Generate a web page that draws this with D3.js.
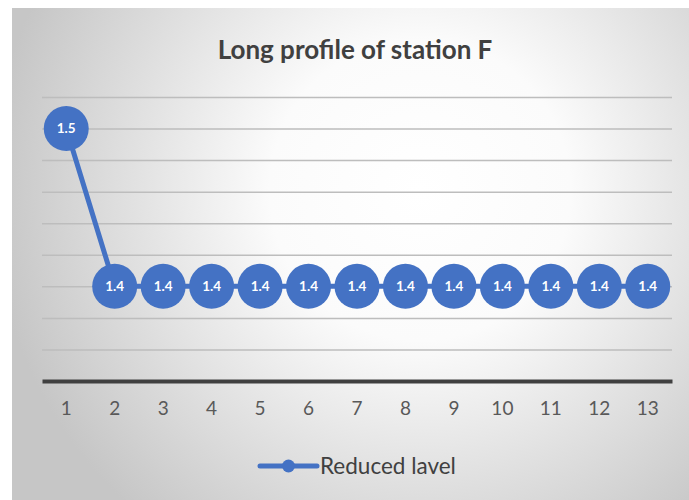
<!DOCTYPE html>
<html>
<head>
<meta charset="utf-8">
<script src="https://cdn.jsdelivr.net/npm/d3@7"></script>
<style>
  html, body { margin: 0; padding: 0; background: #fff; }
  svg { display: block; font-family: Lato, "Open Sans", sans-serif; }
</style>
</head>
<body>
<svg id="chart" width="689" height="500"></svg>
<script>
// Stations along the profile and their reduced levels
const stations = ["1", "2", "3", "4", "5", "6", "7", "8", "9", "10", "11", "12", "13"];
const reducedLevel = [1.5, 1.4, 1.4, 1.4, 1.4, 1.4, 1.4, 1.4, 1.4, 1.4, 1.4, 1.4, 1.4];
const levelRange = [1.34, 1.52];
const title = "Long profile of station F";
const seriesName = "Reduced lavel";

const svg = d3.select("#chart");
const W = 689, H = 500;
const plot = { left: 42, right: 672, top: 97, bottom: 381 };
const blue = "#4472C4";

// Chart area background with a soft radial sheen
const defs = svg.append("defs");
const grad = defs.append("radialGradient")
  .attr("id", "bg").attr("gradientUnits", "userSpaceOnUse")
  .attr("cx", 420).attr("cy", 190).attr("r", 430);
grad.append("stop").attr("offset", "0%").attr("stop-color", "#ffffff");
grad.append("stop").attr("offset", "35%").attr("stop-color", "#fbfbfb");
grad.append("stop").attr("offset", "100%").attr("stop-color", "#c6c6c6");

svg.append("rect")
  .attr("x", 12).attr("y", 8).attr("width", W - 12).attr("height", H - 8)
  .attr("fill", "url(#bg)");

const x = d3.scaleBand().domain(stations).range([plot.left, plot.right]);
const y = d3.scaleLinear().domain(levelRange).range([plot.bottom, plot.top]);

// Horizontal gridlines
const grid = svg.append("g")
  .attr("transform", `translate(${plot.left},0)`)
  .call(d3.axisLeft(y).ticks(9).tickSize(-(plot.right - plot.left)).tickFormat(""));
grid.select(".domain").remove();
grid.selectAll(".tick line")
  .attr("stroke", "#bdbdbd").attr("stroke-width", 1.5);
grid.selectAll(".tick").filter(d => Math.abs(d - levelRange[0]) < 1e-9).remove();

// Category axis
const xAxis = svg.append("g")
  .attr("transform", `translate(0,${plot.bottom})`)
  .call(d3.axisBottom(x).tickSize(0).tickPadding(21));
xAxis.select(".domain").attr("stroke", "#404040").attr("stroke-width", 4);
xAxis.selectAll("text")
  .attr("fill", "#595959").attr("font-size", 19)
  .attr("font-family", "Lato, 'Open Sans', sans-serif");

// Series line
const cx = (d, i) => x(stations[i]) + x.bandwidth() / 2;
const line = d3.line().x(cx).y(d => y(d));
svg.append("path")
  .datum(reducedLevel)
  .attr("fill", "none").attr("stroke", blue).attr("stroke-width", 5)
  .attr("d", line);

// Markers with value labels
const pts = svg.append("g").selectAll("g").data(reducedLevel).join("g")
  .attr("transform", (d, i) => `translate(${cx(d, i)},${y(d)})`);
pts.append("circle").attr("r", 22.5).attr("fill", blue);
pts.append("text")
  .attr("text-anchor", "middle").attr("dy", "0.36em")
  .attr("fill", "#ffffff").attr("font-weight", "bold").attr("font-size", 13.5)
  .text(d => d3.format(".1f")(d));

// Title
svg.append("text")
  .attr("x", 355).attr("y", 59).attr("text-anchor", "middle")
  .attr("fill", "#404040").attr("font-weight", "bold").attr("font-size", 26)
  .text(title);

// Legend
const lg = svg.append("g").attr("transform", "translate(260,466)");
lg.append("line").attr("x1", 0).attr("x2", 57).attr("y1", 0).attr("y2", 0)
  .attr("stroke", blue).attr("stroke-width", 5).attr("stroke-linecap", "round");
lg.append("circle").attr("cx", 28.5).attr("cy", 0).attr("r", 6.5).attr("fill", blue);
lg.append("text").attr("x", 60).attr("y", 0).attr("dy", "0.36em")
  .attr("fill", "#404040").attr("font-size", 22.5)
  .text(seriesName);
</script>
</body>
</html>
